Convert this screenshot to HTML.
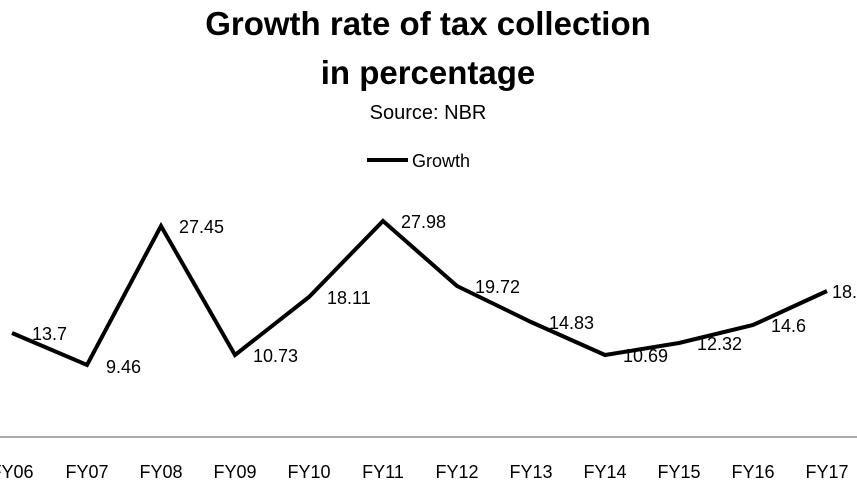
<!DOCTYPE html>
<html><head><meta charset="utf-8"><style>
html,body{margin:0;padding:0;background:#fff;}
svg text{font-family:"Liberation Sans",sans-serif;fill:#000;}
</style></head><body>
<svg width="857" height="482" viewBox="0 0 857 482" xmlns="http://www.w3.org/2000/svg">
<text x="428" y="35" font-size="33" font-weight="bold" text-anchor="middle">Growth rate of tax collection</text>
<text x="428" y="84" font-size="33" font-weight="bold" text-anchor="middle">in percentage</text>
<text x="428" y="119" font-size="20" text-anchor="middle">Source: NBR</text>
<line x1="367" y1="160" x2="408" y2="160" stroke="#000" stroke-width="4"/>
<text x="412" y="167" font-size="18">Growth</text>
<line x1="0" y1="437" x2="857" y2="437" stroke="#777" stroke-width="1.2"/>
<polyline fill="none" stroke="#000" stroke-width="4" stroke-linejoin="miter" points="12,333 87,365 161,226 235,355 309,297 383,221 457,286 531,322 605,355 679,343 753,325 827,291"/>
<g font-size="18">
<text x="32" y="340">13.7</text>
<text x="106" y="373">9.46</text>
<text x="179" y="233">27.45</text>
<text x="253" y="362">10.73</text>
<text x="327" y="304">18.11</text>
<text x="401" y="228">27.98</text>
<text x="475" y="293">19.72</text>
<text x="549" y="329">14.83</text>
<text x="623" y="362">10.69</text>
<text x="697" y="350">12.32</text>
<text x="771" y="332">14.6</text>
<text x="832" y="298">18.</text>
</g>
<g font-size="18" text-anchor="middle">
<text x="12" y="478">FY06</text>
<text x="87" y="478">FY07</text>
<text x="161" y="478">FY08</text>
<text x="235" y="478">FY09</text>
<text x="309" y="478">FY10</text>
<text x="383" y="478">FY11</text>
<text x="457" y="478">FY12</text>
<text x="531" y="478">FY13</text>
<text x="605" y="478">FY14</text>
<text x="679" y="478">FY15</text>
<text x="753" y="478">FY16</text>
<text x="827" y="478">FY17</text>
</g>
</svg>
</body></html>
